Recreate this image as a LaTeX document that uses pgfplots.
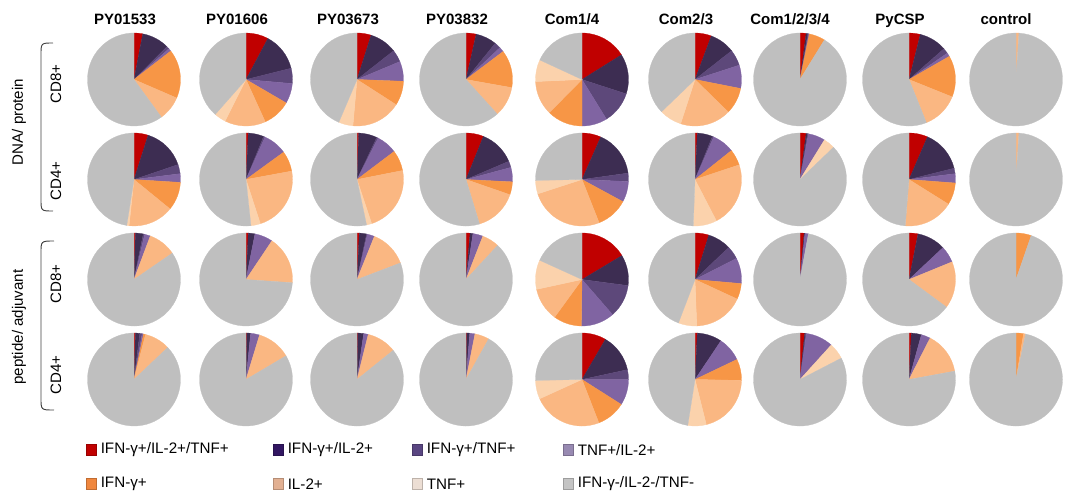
\documentclass[border=0pt]{standalone}
\usepackage{pgfplots}
\pgfplotsset{compat=1.18}
\usepackage{fontspec}
\setmainfont{Liberation Sans}
% pie colours
\definecolor{c1}{RGB}{192,0,0}
\definecolor{c2}{RGB}{61,45,82}
\definecolor{c3}{RGB}{93,72,122}
\definecolor{c4}{RGB}{128,100,162}
\definecolor{c5}{RGB}{247,150,70}
\definecolor{c6}{RGB}{250,183,130}
\definecolor{c7}{RGB}{251,210,172}
\definecolor{c8}{RGB}{191,191,191}
% legend colours
\definecolor{l1}{RGB}{192,0,0}
\definecolor{l2}{RGB}{50,22,98}
\definecolor{l3}{RGB}{90,70,130}
\definecolor{l4}{RGB}{152,138,178}
\definecolor{l5}{RGB}{240,135,62}
\definecolor{l6}{RGB}{226,176,146}
\definecolor{l7}{RGB}{236,222,212}
\definecolor{l8}{RGB}{196,196,196}
\newcommand\pieR{34.875pt}
\newcommand{\pie}[3]{\pgfplotsextra{%
  \gdef\pieang{90}%
  \foreach \v [count=\i] in {#3}{%
    \pgfmathsetmacro\pieend{\pieang-3.6*\v}%
    \ifnum\i=8 \def\pieend{-270}\fi
    \ifdim\v pt>0pt
      \filldraw[fill=c\i,draw=c\i,line width=0.2pt] (axis cs:#1,#2) -- ++(\pieang:\pieR) arc[start angle=\pieang,end angle=\pieend,radius=\pieR] -- cycle;
    \fi
    \global\let\pieang\pieend
  }}}
\newcommand{\legitem}[4]{% x, y, colour, text
  \fill[#3, draw=#3!80!black, line width=0.3pt] (axis cs:#1,#2-5.5) rectangle (axis cs:#1+10,#2+5.5);
  \node[anchor=west, inner sep=0pt, font=\fontsize{11.4pt}{13pt}\selectfont] at (axis cs:#1+14.5,#2) {#4};}
\begin{document}
\begin{tikzpicture}
\begin{axis}[
  at={(0,0)}, anchor=south west,
  scale only axis, width=802.5pt, height=369.75pt,
  xmin=0, xmax=1070, ymin=0, ymax=493, y dir=reverse,
  hide axis, clip=false]
% headers
\pgfplotsinvokeforeach{}{}
\foreach \x/\t in {125/PY01533, 237/PY01606, 348/PY03673, 457/PY03832, 572/Com1\slash 4, 686/Com2\slash 3, 790/Com1\slash 2\slash 3\slash 4, 900/PyCSP, 1006/control}{%
  \edef\tmp{\noexpand\node[anchor=base, inner sep=0pt, font=\noexpand\bfseries\noexpand\fontsize{11.25pt}{13pt}\noexpand\selectfont] at (axis cs:\x,24.5) {\t};}\tmp}
% row labels
\node[rotate=90, font=\fontsize{11.3pt}{13pt}\selectfont] at (axis cs:19,122) {DNA/ protein};
\node[rotate=90, font=\fontsize{11.3pt}{13pt}\selectfont] at (axis cs:19,327) {peptide/ adjuvant};
\node[rotate=90, font=\fontsize{11.3pt}{13pt}\selectfont] at (axis cs:56,84) {CD8+};
\node[rotate=90, font=\fontsize{11.3pt}{13pt}\selectfont] at (axis cs:56,181) {CD4+};
\node[rotate=90, font=\fontsize{11.3pt}{13pt}\selectfont] at (axis cs:56,284) {CD8+};
\node[rotate=90, font=\fontsize{11.3pt}{13pt}\selectfont] at (axis cs:56,375) {CD4+};
\draw[black!75, line width=0.7pt] (axis cs:53,43) .. controls (axis cs:41,43) .. (axis cs:41,55) -- (axis cs:41,199) .. controls (axis cs:41,211) .. (axis cs:53,211);
\draw[black!75, line width=0.7pt] (axis cs:54,241) .. controls (axis cs:41,241) .. (axis cs:41,253) -- (axis cs:41,398) .. controls (axis cs:41,410) .. (axis cs:54,410);
% order: IFN/IL2/TNF, IFN/IL2, IFN/TNF, TNF/IL2, IFN, IL2, TNF, none
% row 1: DNA/protein CD8+
\pie{134}{79.5}{3, 9.5, 1, 1, 17, 8.5, 0, 60}
\pie{246}{79.5}{7.8, 13.3, 5.3, 7, 9.8, 14.2, 4.1, 38.5}
\pie{357}{79.5}{4.9, 9.5, 4.3, 6.9, 8.5, 17.3, 5, 43.6}
\pie{466}{79.5}{3.5, 7.3, 2.2, 1.7, 13.1, 10.5, 0, 61.7}
\pie{582}{79.5}{16.1, 13.9, 11.2, 8.8, 12.4, 11.9, 7.6, 18.1}
\pie{695}{79.5}{5.7, 8.7, 5.6, 8.1, 9.2, 17.7, 7.8, 37.2}
\pie{800}{79.5}{2.1, 0.6, 0.3, 0.2, 5.6, 0, 0, 91.2}
\pie{909}{79.5}{3.9, 9.6, 1.9, 1.3, 14.4, 12.8, 0, 56.1}
\pie{1016}{79.5}{0, 0, 0, 0, 0, 1, 0, 99}
% row 2: DNA/protein CD4+
\pie{134}{179.5}{4.9, 14.9, 3.2, 3, 9.9, 15.8, 0.8, 47.5}
\pie{246}{179.5}{0.8, 5.4, 0.5, 8.3, 7.1, 22.9, 3.3, 51.7}
\pie{357}{179.5}{0.6, 6.4, 0.5, 7.2, 7.2, 23, 1.8, 53.3}
\pie{466}{179.5}{6.1, 12.5, 2.2, 5, 4.5, 15, 0, 54.7}
\pie{582}{179.5}{6.6, 16.2, 2.9, 7.2, 11.1, 26, 4.7, 25.3}
\pie{695}{179.5}{0.8, 5.3, 0.5, 7.7, 5.6, 22.5, 8.2, 49.4}
\pie{800}{179.5}{2.1, 0.5, 0.3, 5.9, 0, 0, 4, 87.2}
\pie{909}{179.5}{6.5, 14.6, 1.9, 3.2, 7.7, 17.4, 0, 48.7}
\pie{1016}{179.5}{0, 0, 0, 0, 0, 1, 0, 99}
% row 3: peptide/adjuvant CD8+
\pie{134}{279.5}{0.5, 2.7, 0.5, 2, 0, 9.7, 0, 84.6}
\pie{246}{279.5}{0.8, 2.3, 0, 6.3, 0, 16.7, 0, 73.9}
\pie{357}{279.5}{0.8, 2.5, 0.3, 2.5, 0, 13.1, 0, 80.8}
\pie{466}{279.5}{1.4, 1, 0, 3.5, 0, 6, 0, 88.1}
\pie{582}{279.5}{16.4, 10.7, 11.5, 11.6, 9.8, 11.6, 10.2, 18.2}
\pie{695}{279.5}{4.8, 8.1, 4.6, 8.9, 5.5, 17.5, 6.4, 44.2}
\pie{800}{279.5}{1.4, 0.3, 0, 1.2, 0, 0, 0, 97.1}
\pie{909}{279.5}{3.1, 9.9, 0, 5.8, 0, 16.3, 0, 64.9}
\pie{1016}{279.5}{0, 0, 0, 0, 5.3, 0, 0, 94.7}
% row 4: peptide/adjuvant CD4+
\pie{134}{379.5}{0.5, 1.5, 0.8, 0.5, 0.7, 8.9, 0, 87.1}
\pie{246}{379.5}{0.3, 1.3, 0, 3.1, 0, 11.8, 0, 83.5}
\pie{357}{379.5}{0.3, 2, 0, 1.6, 0, 10.3, 0, 85.8}
\pie{466}{379.5}{0.3, 1, 0, 1.8, 0, 5, 0, 91.9}
\pie{582}{379.5}{8.4, 13.2, 3.4, 9, 10.1, 24.1, 6.5, 25.3}
\pie{695}{379.5}{0.8, 8.6, 0, 8.5, 7.4, 20.8, 6.4, 47.5}
\pie{800}{379.5}{1.6, 0.3, 0.3, 9.5, 0, 0, 5.7, 82.6}
\pie{909}{379.5}{0.8, 3.5, 0, 3.2, 0, 14.6, 0, 77.9}
\pie{1016}{379.5}{0, 0, 0, 0, 2.6, 0.7, 0, 96.7}
% legend
\legitem{86}{450}{l1}{IFN-γ+/IL-2+/TNF+}
\legitem{273}{450}{l2}{IFN-γ+/IL-2+}
\legitem{412}{450}{l3}{IFN-γ+/TNF+}
\legitem{563}{450}{l4}{TNF+/IL-2+}
\legitem{86}{484}{l5}{IFN-γ+}
\legitem{273}{484}{l6}{IL-2+}
\legitem{412}{484}{l7}{TNF+}
\legitem{563}{484}{l8}{IFN-γ-/IL-2-/TNF-}
\end{axis}
\pgfresetboundingbox
\path (0,0) rectangle (802.5pt,369.75pt);
\end{tikzpicture}
\end{document}
